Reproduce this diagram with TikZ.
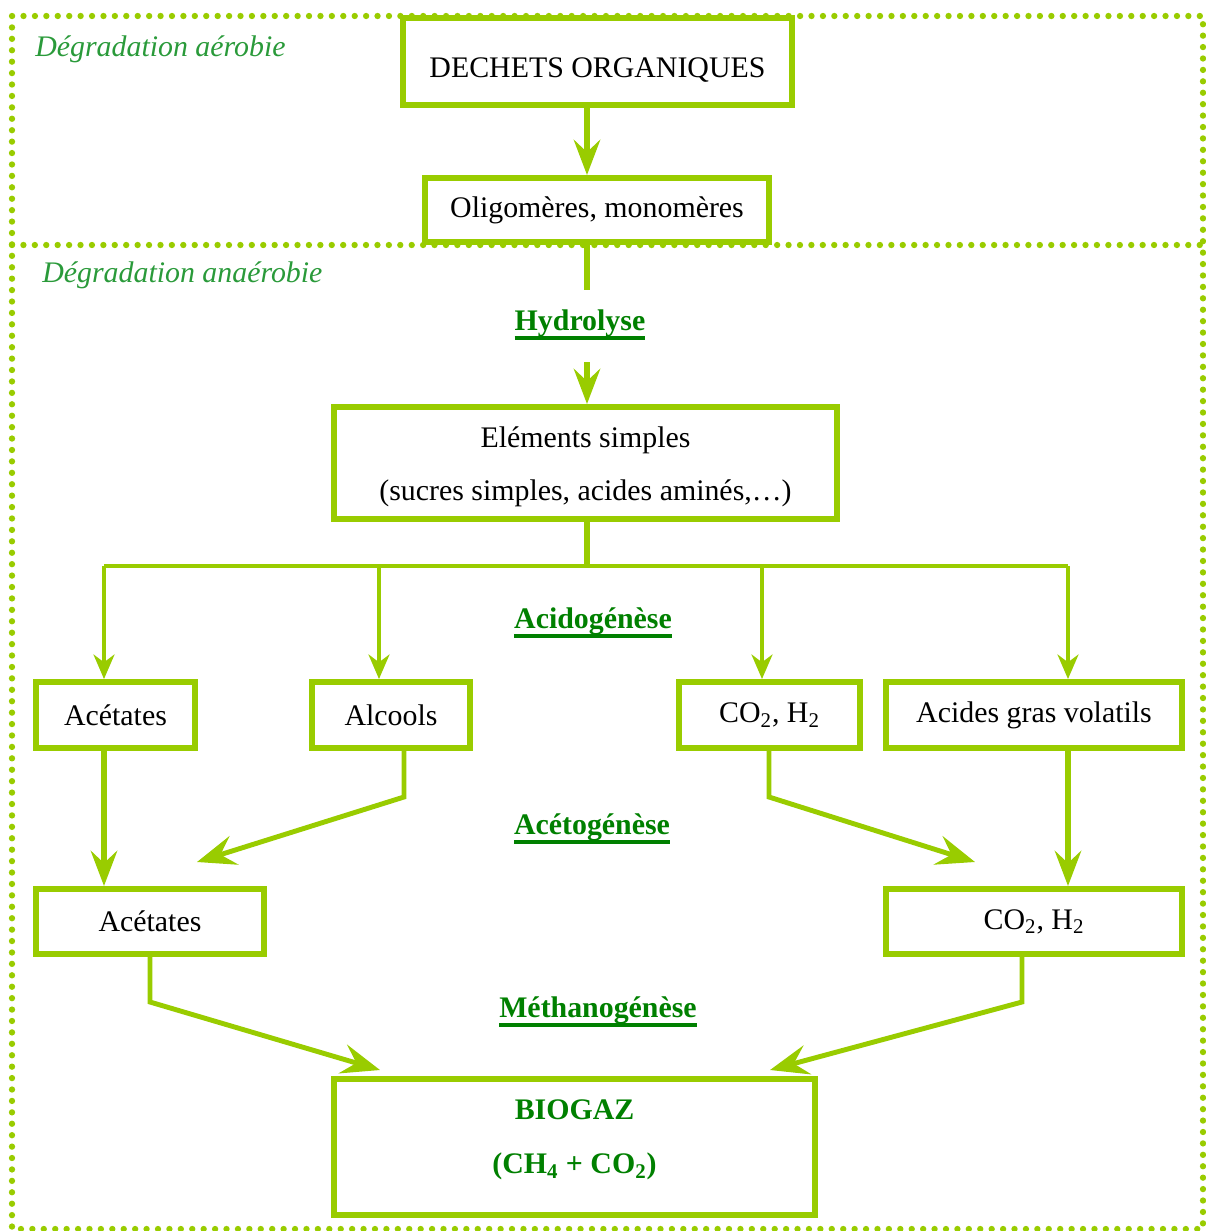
\documentclass[tikz,border=0pt]{standalone}
\usepackage{fontspec}
\setmainfont{Liberation Serif}
\usetikzlibrary{arrows.meta}
\definecolor{lime}{HTML}{99CC00}
\definecolor{leaf}{HTML}{008000}
\definecolor{zonegreen}{HTML}{2A9A3A}
\newcommand{\stagelabel}[1]{\setbox0\hbox{\bfseries #1}\rlap{\color{leaf}\rule[-5pt]{\wd0}{2.3pt}}\box0}
\newcommand{\lowered}[2]{\raisebox{-#1}[\height][\depth]{#2}}

\begin{document}
\begin{tikzpicture}[x=0.02cm, y=-0.02cm,
	every node/.style={font=\fontsize{17}{30}\selectfont},
	box/.style={draw=lime, line width=3.4pt, fill=white, inner sep=0pt, align=center},
	stage/.style={text=leaf, font=\fontsize{17}{30}\selectfont\bfseries},
	zone/.style={text=zonegreen, font=\fontsize{17}{30}\selectfont\itshape, anchor=west, inner sep=0pt},
	border/.style={draw=lime, line width=3.6pt, line cap=round, dash pattern=on 0pt off 6.5pt},
	link/.style={draw=lime, line width=3.4pt},
	flow/.style={link, -{Stealth[length=20pt,width=15pt,inset=7pt]}},
	branch/.style={draw=lime, line width=1.8pt},
	slant/.style={draw=lime, line width=2.8pt, line join=miter, -{Stealth[length=22pt,width=17pt,inset=8pt]}}]
	\useasboundingbox (0,0) rectangle (1206,1231);

	% zones
	\draw[border] (12,16) rectangle (1203,1229);
	\draw[border] (12,245) -- (1203,245);
	\node[zone] (aerobie) at (35,49) {Dégradation aérobie};
	\node[zone] (anaerobie) at (42,275) {Dégradation anaérobie};

	% boxes
	\node[box, minimum width=7.78cm, minimum height=1.74cm] (dechets) at (597.5,61.5) {\lowered{5pt}{DECHETS ORGANIQUES}};
	\node[box, minimum width=6.88cm, minimum height=1.28cm] (oligo) at (597,210) {Oligomères, monomères};
	\node[box, minimum width=10.06cm, minimum height=2.24cm] (elem) at (585.5,463) {\lowered{2pt}{Eléments simples}\\\lowered{2pt}{(sucres simples, acides aminés,\ldots)}};
	\node[box, minimum width=3.18cm, minimum height=1.32cm] (acet1) at (115.5,715) {Acétates};
	\node[box, minimum width=3.16cm, minimum height=1.32cm] (alcools) at (391,715) {Alcools};
	\node[box, minimum width=3.62cm, minimum height=1.32cm] (co2a) at (769.5,715) {CO\textsubscript{2}, H\textsubscript{2}};
	\node[box, minimum width=5.92cm, minimum height=1.32cm] (agv) at (1034,715) {Acides gras volatils};
	\node[box, minimum width=4.56cm, minimum height=1.30cm] (acet2) at (150,921.5) {Acétates};
	\node[box, minimum width=5.92cm, minimum height=1.30cm] (co2b) at (1034,921.5) {CO\textsubscript{2}, H\textsubscript{2}};
	\node[box, minimum width=9.62cm, minimum height=2.72cm, text=leaf, font=\fontsize{17}{31}\selectfont\bfseries] (biogaz) at (574.5,1147) {\lowered{-4pt}{BIOGAZ}\\\lowered{-4pt}{(CH\textsubscript{4} + CO\textsubscript{2})}};

	% stages
	\node[stage] (hydro) at (580,325) {\stagelabel{Hydrolyse}};
	\node[stage] (acido) at (593,623) {\stagelabel{Acidogénèse}};
	\node[stage] (aceto) at (592,829) {\stagelabel{Acétogénèse}};
	\node[stage] (methano) at (598,1012) {\stagelabel{Méthanogénèse}};

	% main axis
	\coordinate (axis) at (587,0);
	\coordinate (h-in) at (587,290);
	\coordinate (h-out) at (587,362);
	\coordinate (fork) at (587,566);
	\draw[flow] (dechets.south -| axis) -- (oligo.north -| axis);
	\draw[link] (oligo.south -| axis) -- (h-in);
	\draw[flow] (h-out) -- (elem.north -| axis);
	\draw[link] (elem.south -| axis) -- (fork);

	% acidogenese
	\coordinate (d1) at (104,566);
	\coordinate (d2) at (379,566);
	\coordinate (d3) at (762,566);
	\coordinate (d4) at (1068,566);
	\draw[branch] (d1) -- (d4);
	\foreach \d/\n in {d1/acet1, d2/alcools, d3/co2a, d4/agv}
		\draw[branch, -{Stealth[length=14pt,width=12pt,inset=4.5pt]}] (\d) -- (\d |- \n.north);

	% acetogenese
	\coordinate (alc-knee) at (404,797);
	\coordinate (alc-end) at (197,862);
	\coordinate (co2-knee) at (769,797);
	\coordinate (co2-end) at (975,862);
	\draw[flow] (acet1.south -| d1) -- (acet2.north -| d1);
	\draw[flow] (agv.south -| d4) -- (co2b.north -| d4);
	\draw[slant] (alcools.south -| alc-knee) -- (alc-knee) -- (alc-end);
	\draw[slant] (co2a.south -| co2-knee) -- (co2-knee) -- (co2-end);

	% methanogenese
	\coordinate (ac-knee) at (150,1002);
	\coordinate (ac-end) at (380,1070);
	\coordinate (h2-knee) at (1022,1002);
	\coordinate (h2-end) at (770,1070);
	\draw[slant] (acet2.south -| ac-knee) -- (ac-knee) -- (ac-end);
	\draw[slant] (co2b.south -| h2-knee) -- (h2-knee) -- (h2-end);
\end{tikzpicture}
\end{document}
